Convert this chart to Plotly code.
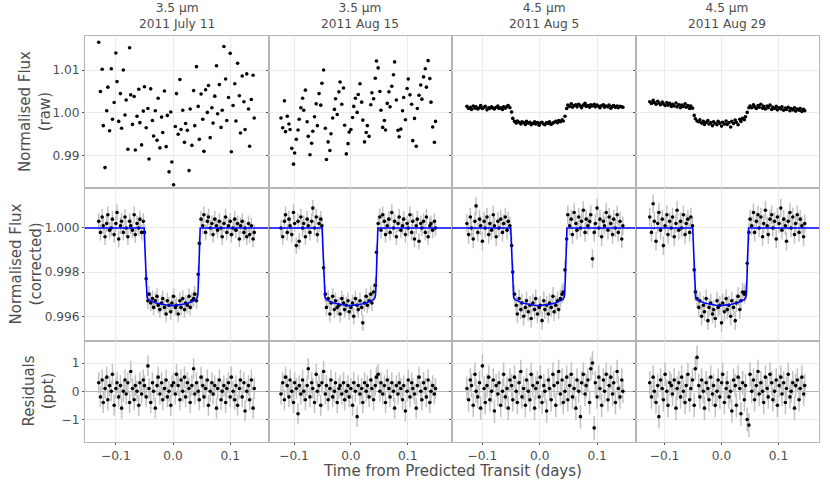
import plotly.graph_objects as go
from plotly.subplots import make_subplots

# panel labels
titles = ["3.5 µm<br>2011 July 11", "3.5 µm<br>2011 Aug 15",
          "4.5 µm<br>2011 Aug 5", "4.5 µm<br>2011 Aug 29"]

# time from predicted transit, in units of 0.001 days
t_jul11 = [-130, -127, -124, -122, -119, -116, -114, -111, -108, -106,
           -103, -100, -98, -95, -92, -90, -87, -84, -82, -79,
           -76, -74, -71, -68, -66, -63, -60, -58, -55, -52,
           -50, -47, -44, -42, -39, -36, -34, -31, -28, -26,
           -23, -20, -18, -15, -12, -10, -7, -4, -2, 1,
           4, 6, 9, 12, 14, 17, 20, 22, 25, 28,
           30, 33, 36, 38, 41, 44, 46, 49, 52, 54,
           57, 60, 62, 65, 68, 70, 73, 76, 78, 81,
           84, 86, 89, 92, 94, 97, 100, 102, 105, 108,
           110, 113, 116, 118, 121, 124, 126, 129, 132, 134,
           137, 140, 142]
t_aug15 = [-123, -120, -117, -115, -112, -109, -107, -104, -101, -99,
           -96, -93, -91, -88, -85, -83, -80, -77, -75, -72,
           -69, -67, -64, -61, -59, -56, -53, -51, -48, -45,
           -43, -40, -37, -35, -32, -29, -27, -24, -21, -19,
           -16, -13, -11, -8, -5, -3, 0, 3, 5, 8,
           11, 13, 16, 19, 21, 24, 27, 29, 32, 35,
           37, 40, 43, 45, 48, 51, 53, 56, 59, 61,
           64, 67, 69, 72, 75, 77, 80, 83, 85, 88,
           91, 93, 96, 99, 101, 104, 107, 109, 112, 115,
           117, 120, 123, 125, 128, 131, 133, 136, 139, 141,
           144, 147, 149]
t_aug05 = [-127, -124, -121, -119, -116, -113, -111, -108, -105, -103,
           -100, -97, -95, -92, -89, -87, -84, -81, -79, -76,
           -73, -71, -68, -65, -63, -60, -57, -55, -52, -49,
           -47, -44, -41, -39, -36, -33, -31, -28, -25, -23,
           -20, -17, -15, -12, -9, -7, -4, -1, 1, 4,
           7, 9, 12, 15, 17, 20, 23, 25, 28, 31,
           33, 36, 39, 41, 44, 47, 49, 52, 55, 57,
           60, 63, 65, 68, 71, 73, 76, 79, 81, 84,
           87, 89, 92, 95, 97, 100, 103, 105, 108, 111,
           113, 116, 119, 121, 124, 127, 129, 132, 135, 137,
           140, 143, 145]
t_aug29 = [-126, -123, -120, -118, -115, -112, -110, -107, -104, -102,
           -99, -96, -94, -91, -88, -86, -83, -80, -78, -75,
           -72, -70, -67, -64, -62, -59, -56, -54, -51, -48,
           -46, -43, -40, -38, -35, -32, -30, -27, -24, -22,
           -19, -16, -14, -11, -8, -6, -3, 0, 2, 5,
           8, 10, 13, 16, 18, 21, 24, 26, 29, 32,
           34, 37, 40, 42, 45, 48, 50, 53, 56, 58,
           61, 64, 66, 69, 72, 74, 77, 80, 82, 85,
           88, 90, 93, 96, 98, 101, 104, 106, 109, 112,
           114, 117, 120, 122, 125, 128, 130, 133, 136, 138,
           141, 144, 146]

# raw flux, parts per thousand away from 1
raw_jul11 = [16.5, 5.0, 10.2, -3.0, -12.8, 0.5, 6.0, -4.2, 10.3, -1.5,
             2.4, 14.0, 7.3, -2.0, 4.5, -3.6, 10.0, -0.5, 3.0, -8.5,
             15.2, 4.2, -2.7, 3.8, -8.7, -0.8, 5.5, -2.3, -7.5, 0.4,
             6.1, -3.5, 1.0, -10.8, 5.6, -1.8, -5.4, 0.5, -6.4, 3.4,
             -8.2, -1.0, -4.6, 5.1, -7.9, -0.6, -13.8, 0.2, -11.5, -16.8,
             -3.2, 4.5, -5.0, 7.8, -3.9, 0.6, -6.9, -2.5, -4.1, -13.5,
             0.9, -7.6, 5.2, -3.0, 10.8, 1.5, -6.2, 4.4, -1.5, -9.0,
             5.4, 0.1, 6.4, -5.8, 1.2, -2.4, 3.9, 11.0, -0.2, 6.6,
             -3.4, 0.6, 15.5, 7.9, -1.8, 3.6, 13.9, -9.1, 1.7, 6.8,
             -1.9, 11.6, 4.0, -4.7, 8.6, 2.6, -3.9, 9.1, 0.9, -7.8,
             3.1, 8.8, -1.2]
raw_aug15 = [-1.2, -3.5, 2.8, -4.4, -0.8, -2.6, -3.9, -8.3, -12.0, -9.4,
             -6.2, -4.0, -1.5, 1.2, 3.4, 0.6, 5.3, -2.1, -5.5, -9.8,
             -7.1, -4.3, -0.9, 2.1, -3.0, 4.5, 1.8, 6.9, 10.0, -3.6,
             -10.9, -6.8, -8.8, -4.9, -1.2, 0.8, 3.3, -0.4, 4.9, 7.2,
             2.0, 5.8, -2.9, -9.6, -7.2, -4.5, -3.9, -1.1, 1.5, 3.4,
             0.1, 4.3, 6.8, 2.5, -1.7, -6.8, -4.6, -3.0, -5.5, 1.9,
             4.7, 3.3, 8.1, 12.1, 10.5, 5.0, 0.6, -3.4, -1.8, -4.0,
             2.2, 4.9, 1.4, 6.2, 8.9, 11.9, 3.0, -4.1, -5.6, -3.8,
             0.5, 3.6, -1.6, 5.7, 7.9, 4.2, 2.0, -6.5, -1.3, -7.8,
             1.0, 4.1, 6.5, 3.2, 8.4, 10.3, 6.0, 12.2, 8.0, 2.5,
             -3.3, -6.9, -2.0]
raw_aug05 = [1.5, 1.0, 1.3, 0.8, 1.6, 1.1, 1.4, 0.9, 1.2, 1.7,
             1.0, 1.3, 1.5, 0.7, 1.2, 1.0, 1.4, 1.1, 0.9, 1.3,
             1.6, 1.0, 1.2, 0.8, 1.4, 1.1, 1.5, 1.7, 1.2, 0.2,
             -1.3, -2.0, -2.4, -1.9, -2.2, -2.6, -2.1, -2.3, -2.7, -2.0,
             -2.4, -2.2, -2.8, -2.5, -2.1, -2.6, -2.3, -2.9, -2.4, -2.2,
             -2.6, -2.8, -2.3, -2.5, -2.1, -2.7, -2.4, -2.2, -2.0, -2.3,
             -1.8, -2.1, -1.6, -1.9, -0.8, 1.0, 1.8, 1.5, 2.1, 1.3,
             1.7, 1.9, 1.4, 2.0, 1.6, 1.2, 1.8, 2.2, 1.5, 1.7,
             1.3, 1.9, 1.6, 2.0, 1.4, 1.8, 1.5, 1.2, 1.7, 1.9,
             1.3, 1.6, 1.4, 1.8, 1.1, 1.5, 1.7, 1.3, 1.6, 1.2,
             1.5, 1.4, 1.3]
raw_aug29 = [2.6, 2.2, 2.9, 2.4, 2.0, 2.7, 2.3, 1.9, 2.5, 2.1,
             1.7, 2.4, 1.8, 2.2, 1.5, 2.0, 1.6, 2.3, 1.4, 1.9,
             1.2, 1.8, 1.5, 2.1, 1.3, 1.7, 1.0, 1.6, 1.1, -0.6,
             -1.4, -1.9, -2.1, -1.6, -2.4, -2.0, -2.7, -2.2, -1.8, -2.6,
             -2.3, -3.0, -2.1, -2.5, -2.8, -2.0, -2.4, -3.1, -2.2, -2.6,
             -1.9, -2.7, -2.3, -3.3, -2.0, -2.5, -1.7, -2.2, -2.8, -1.5,
             -2.0, -1.3, -1.6, -0.9, 0.1, 1.2, 1.6, 1.2, 1.9, 1.4,
             1.0, 1.7, 1.3, 2.0, 1.1, 1.5, 0.9, 1.6, 1.2, 1.8,
             0.8, 1.3, 1.0, 1.5, 0.7, 1.2, 0.9, 1.4, 0.6, 1.1,
             0.8, 1.3, 0.5, 1.0, 0.7, 1.2, 0.4, 0.9, 0.6, 1.0,
             0.3, 0.8, 0.5]

# systematics-corrected flux, parts per thousand away from 1
corr_jul11 = [0.3, -0.2, 0.5, 0.1, -0.4, 0.2, 0.6, -0.1, 0.0, 0.4,
              -0.3, 0.2, 0.7, -0.5, 0.1, 0.3, -0.2, 0.5, 0.0, -0.4,
              0.3, 0.1, -0.1, 0.6, -0.3, 0.2, 0.0, 0.4, -0.2, 0.3,
              -0.2, -2.3, -3.3, -3.0, -3.4, -3.2, -3.6, -3.3, -3.1, -3.5,
              -3.7, -3.4, -3.2, -3.6, -3.9, -3.3, -3.5, -3.8, -3.4, -3.1,
              -3.6, -3.5, -3.9, -3.3, -3.6, -3.2, -3.7, -3.4, -3.5, -3.1,
              -3.6, -3.3, -3.2, -3.0, -3.3, -2.1, -0.7, 0.4, 0.1, 0.6,
              -0.2, 0.3, 0.5, 0.0, 0.2, -0.3, 0.4, 0.1, -0.1, 0.3,
              0.0, -0.4, 0.2, 0.5, -0.2, 0.1, 0.3, -0.3, 0.0, 0.4,
              -0.1, 0.2, -0.5, 0.1, 0.3, -0.2, 0.0, -0.4, 0.2, -0.3,
              0.1, -0.5, -0.2]
corr_aug15 = [0.0, -0.4, 0.3, 0.6, -0.2, 0.4, 0.1, -0.3, 0.7, 0.2,
              -0.8, 0.3, -0.6, 0.5, 0.0, 0.2, -0.4, 0.4, 0.1, -0.2,
              0.3, 0.9, 0.0, 0.5, -0.3, 0.2, 0.4, 0.1, -1.8, -3.0,
              -3.6, -3.2, -3.9, -3.4, -3.1, -3.7, -3.3, -3.6, -3.5, -3.9,
              -3.2, -3.4, -3.7, -3.5, -3.3, -3.8, -3.6, -3.4, -4.0, -3.2,
              -3.5, -3.7, -3.3, -3.6, -4.3, -3.4, -3.1, -3.5, -3.3, -3.0,
              -3.4, -2.9, -2.6, -1.1, 0.2, 0.5, -0.1, 0.6, 0.3, -0.3,
              0.1, 0.4, -0.2, 0.7, 0.0, 0.3, -0.4, 0.2, 0.5, -0.1,
              0.1, 0.4, -0.3, 0.2, 0.0, 0.6, -0.2, 0.3, -0.5, 0.1,
              0.4, -0.6, 0.2, 0.0, 0.3, -0.2, 0.5, -0.4, 0.1, 0.2,
              -0.1, 0.3, 0.0]
corr_aug05 = [0.2, -0.3, 0.5, 0.0, -0.5, 0.3, 1.0, -0.2, 0.4, 0.1,
              -0.6, 0.3, 0.0, 0.5, -0.3, 0.2, -0.1, 0.6, 0.1, -0.4,
              0.3, 0.0, 0.4, -0.2, 0.2, 0.5, -0.1, 0.3, 0.1, -0.8,
              -2.0, -3.0, -3.5, -3.9, -3.2, -3.7, -3.4, -4.0, -3.6, -3.3,
              -3.8, -3.5, -4.1, -3.4, -3.7, -3.2, -3.9, -3.6, -3.5, -4.2,
              -3.3, -3.7, -3.5, -3.9, -3.4, -3.6, -3.1, -3.8, -3.5, -3.3,
              -3.7, -3.2, -3.0, -2.9, -1.9, -0.5, 0.6, 0.1, 0.4, -0.3,
              0.7, 0.2, -0.1, 0.5, 0.0, 0.3, 0.8, -0.2, 0.4, 0.1,
              0.3, 0.6, -1.4, -0.2, 0.2, 0.9, 0.0, 0.4, -0.4, 0.3,
              0.1, 0.7, -0.1, 0.5, 0.2, -0.3, 0.4, 0.0, 0.6, -0.2,
              0.3, -0.5, 0.1]
corr_aug29 = [0.5, -0.2, 1.1, 0.3, -0.6, 0.2, 0.7, -0.1, 0.4, -0.8,
              0.1, 0.6, -0.3, 0.3, 0.0, 0.5, -0.4, 0.2, 0.8, -0.1,
              0.3, 0.0, 0.6, -0.3, 0.2, 0.4, -0.2, 0.5, 0.1, -1.9,
              -2.9, -3.2, -3.6, -3.3, -4.0, -3.5, -3.8, -3.2, -4.2, -3.6,
              -3.4, -3.9, -3.7, -4.1, -3.3, -3.6, -3.5, -4.3, -3.4, -3.8,
              -3.2, -3.7, -3.5, -4.0, -3.3, -3.6, -4.2, -3.4, -3.1, -3.7,
              -3.3, -2.9, -3.0, -2.9, -1.6, -0.2, 0.4, 0.1, 0.7, -0.2,
              0.3, 0.6, 0.0, 0.5, -0.4, 0.2, 0.8, 0.1, -0.3, 0.4,
              0.6, 0.0, 0.3, -0.5, 0.5, 0.2, 0.9, -0.1, 0.4, 0.1,
              -0.6, 0.3, 0.7, 0.0, 0.5, -0.3, 0.2, 0.6, -0.2, 0.4,
              0.1, -0.4, 0.2]

# residuals, ppt
res_jul11 = [0.3, -0.2, 0.4, -0.4, 0.1, 0.5, -0.3, 0.2, 0.0, 0.6,
             -0.5, 0.1, 0.3, -0.2, 0.2, -0.6, 0.0, 0.4, -0.1, 0.3,
             -0.4, 0.7, 0.1, -0.3, 0.2, 0.0, -0.5, 0.3, -0.1, 0.4,
             0.2, -0.2, 0.9, 0.1, -0.4, 0.3, 0.0, -0.6, 0.2, 0.5,
             -0.1, 0.3, -0.3, 0.1, 0.4, -0.2, 0.0, -0.5, 0.2, 0.3,
             -0.1, 0.6, 0.2, -0.3, 0.4, 0.0, 0.5, -0.2, 0.3, 0.1,
             -0.4, 0.2, 0.8, -0.1, 0.3, 0.0, -0.3, 0.5, 0.2, -0.2,
             0.1, 0.4, -0.5, 0.0, 0.3, -0.1, 0.2, -0.6, 0.1, 0.4,
             -0.3, 0.0, 0.2, -0.4, 0.1, 0.3, -0.2, 0.5, 0.0, -0.3,
             0.2, -0.5, 0.1, 0.4, -0.2, 0.3, -0.7, 0.0, 0.2, -0.3,
             0.4, -0.6, 0.1]
res_aug15 = [-0.1, 0.3, -0.3, 0.5, 0.2, -0.2, 0.4, 0.0, -0.4, 0.3,
             0.1, -0.8, 0.2, -0.1, 0.4, 0.0, -0.3, 0.2, 0.8, -0.2,
             0.3, 0.1, -0.4, 0.6, 0.0, 0.2, -0.5, 0.3, 0.7, -0.1,
             0.2, -0.3, 0.1, 0.4, -0.2, 0.0, 0.3, -0.4, 0.1, 0.2,
             -0.1, 0.3, -0.3, 0.0, 0.2, -0.2, 0.1, -0.5, 0.3, 0.0,
             -0.9, 0.2, -0.1, 0.1, -0.4, 0.3, 0.0, 0.2, -0.2, 0.4,
             0.1, -0.3, 0.2, 0.5, 0.6, 0.0, 0.3, -0.1, 0.2, -0.4,
             0.4, 0.1, -0.2, 0.3, 0.0, -0.6, 0.2, -0.1, 0.3, 0.1,
             -0.3, 0.2, -0.7, 0.0, 0.4, -0.2, 0.3, 0.1, -0.1, -0.6,
             0.2, 0.5, 0.0, -0.3, 0.3, 0.1, -0.2, 0.4, -0.4, 0.0,
             0.2, -0.1, 0.1]
res_aug05 = [0.1, -0.3, 0.4, 0.2, -0.5, 0.6, 0.0, -0.2, 0.3, -0.6,
             0.9, 0.1, -0.4, 0.2, 0.5, -0.3, 0.0, 0.4, -0.7, 0.2,
             -0.1, 0.3, -0.5, 0.0, 0.6, -0.2, 0.1, -0.6, 0.4, 0.2,
             -0.3, 0.5, 0.0, -0.4, 0.3, 0.7, -0.2, 0.1, -0.5, 0.4,
             0.0, -0.3, 0.6, 0.2, -0.6, 0.1, 0.3, -0.2, 0.5, -0.4,
             0.2, 0.0, -0.7, 0.4, 0.1, -0.3, 0.6, 0.2, -0.5, 0.3,
             0.7, -0.1, 0.4, -0.4, 0.0, 0.5, -0.3, 0.2, 0.6, -0.2,
             0.1, -0.6, 0.4, 0.0, -0.9, 0.3, 0.6, -0.1, 0.2, 0.4,
             -0.4, 0.8, 1.0, -1.3, 0.3, -0.2, 0.5, 0.1, -0.5, 0.4,
             0.0, 0.6, -0.3, 0.2, 0.5, -0.1, 0.3, -0.4, 0.7, 0.1,
             -0.2, 0.4, 0.0]
res_aug29 = [0.3, -0.2, 0.5, 0.0, -0.4, 0.2, -0.9, 0.4, 0.1, -0.3,
             0.6, 0.0, -0.5, 0.3, 0.2, -0.1, 0.4, -0.6, 0.1, 0.3,
             -0.2, 0.5, 0.0, -0.4, 0.2, 0.6, -0.3, 0.1, 0.4, -0.5,
             0.8, 1.2, 0.2, -0.2, 0.4, 0.0, -0.6, 0.3, 0.1, -0.3,
             0.5, -0.1, 0.2, -0.5, 0.0, 0.4, -0.2, 0.3, 0.6, -0.4,
             0.1, 0.3, -0.2, 0.0, -0.7, 0.4, 0.2, -0.5, 0.5, 0.1,
             -0.8, 0.3, -0.3, 0.2, -1.0, -1.2, 0.6, 0.0, 0.4, -0.3,
             0.2, 0.7, -0.1, 0.3, 0.0, -0.4, 0.5, 0.1, -0.2, 0.6,
             0.3, -0.3, 0.0, 0.4, -0.5, 0.2, 0.5, -0.1, 0.3, -0.4,
             0.1, 0.6, -0.2, 0.0, 0.3, -0.6, 0.2, 0.4, -0.3, 0.1,
             0.5, -0.1, 0.2]

# per-point uncertainty (ppt)
err_ppt = [0.37, 0.37, 0.42, 0.42]

# fitted transit model (time in 0.001 d, flux in ppt)
model_t = [-160, -50.5, -49.5, -48.5, -47.5, -46.5, -45.5, -43, -40, -35,
           -30, -20, -10, -1.5, 7, 17, 27, 32, 37, 40,
           42.5, 43.5, 44.5, 45.5, 46.5, 47.5, 180]
model_f = [0, 0, -0.7, -1.6, -2.4, -3.0, -3.15, -3.25, -3.3, -3.35,
           -3.4, -3.46, -3.5, -3.52, -3.5, -3.46, -3.4, -3.35, -3.3, -3.25,
           -3.15, -3.0, -2.4, -1.6, -0.7, 0, 0]

times = [t_jul11, t_aug15, t_aug05, t_aug29]
raws = [raw_jul11, raw_aug15, raw_aug05, raw_aug29]
corrs = [corr_jul11, corr_aug15, corr_aug05, corr_aug29]
resids = [res_jul11, res_aug15, res_aug05, res_aug29]

x_ranges = [[-0.154, 0.167], [-0.145, 0.178], [-0.153, 0.167], [-0.151, 0.171]]

fig = make_subplots(rows=3, cols=4, shared_xaxes=True, shared_yaxes=True,
                    horizontal_spacing=0, vertical_spacing=0,
                    row_heights=[1.5, 1.5, 1])

dot = dict(color='black', size=3.6)
bar_col = '#c2c2c2'

for c in range(4):
    x = [v / 1000 for v in times[c]]
    fig.add_trace(go.Scatter(x=x, y=[1 + v / 1000 for v in raws[c]],
                             mode='markers', marker=dot), row=1, col=c + 1)
    fig.add_trace(go.Scatter(x=x, y=[1 + v / 1000 for v in corrs[c]],
                             mode='markers', marker=dot,
                             error_y=dict(type='constant', value=err_ppt[c] / 1000,
                                          color=bar_col, thickness=1.5, width=0)),
                  row=2, col=c + 1)
    fig.add_trace(go.Scatter(x=[v / 1000 for v in model_t],
                             y=[1 + v / 1000 for v in model_f],
                             mode='lines', line=dict(color='#0000ff', width=1.6)),
                  row=2, col=c + 1)
    fig.add_trace(go.Scatter(x=x, y=resids[c], mode='markers', marker=dot,
                             error_y=dict(type='constant', value=err_ppt[c],
                                          color=bar_col, thickness=1.5, width=0)),
                  row=3, col=c + 1)
    fig.update_xaxes(range=x_ranges[c], col=c + 1)

grey = '#4d4d4d'
axis_style = dict(showline=True, mirror=True, linecolor='#b5b5b5', linewidth=1,
                  showgrid=True, gridcolor='#ebebeb', gridwidth=1, zeroline=False,
                  ticklen=2, tickcolor='#555555',
                  tickfont=dict(size=12.2, color=grey))
fig.update_xaxes(**axis_style, tickvals=[-0.1, 0, 0.1], tickformat='.1f', ticks='')
fig.update_xaxes(ticks='outside', row=3)
fig.update_yaxes(**axis_style, ticks='outside')
fig.update_yaxes(range=[0.98237, 1.01796], tickvals=[0.99, 1.00, 1.01],
                 tickformat='.2f', row=1)
fig.update_yaxes(range=[0.9949, 1.0018], tickvals=[0.996, 0.998, 1.000],
                 tickformat='.3f', row=2)
fig.update_yaxes(range=[-1.8, 1.8], tickvals=[-1, 0, 1], tickformat='d',
                 zeroline=True, zerolinecolor='#b5b5b5', zerolinewidth=1, row=3)

notes = []
for c in range(4):
    notes.append(dict(text=titles[c], x=(c + 0.5) / 4, y=1, xref='paper', yref='paper',
                      xanchor='center', yanchor='bottom', yshift=3, showarrow=False,
                      font=dict(size=12.2, color=grey)))
ytitles = [("Normalised Flux<br>(raw)", -0.068, 0.813),
           ("Normalised Flux<br>(corrected)", -0.080, 0.438),
           ("Residuals<br>(ppt)", -0.063, 0.126)]
for txt, xx, yy in ytitles:
    notes.append(dict(text=txt, x=xx, y=yy, xref='paper', yref='paper', textangle=-90,
                      xanchor='center', yanchor='middle', showarrow=False,
                      font=dict(size=15, color=grey)))
notes.append(dict(text="Time from Predicted Transit (days)", x=0.5, y=-0.072,
                  xref='paper', yref='paper', xanchor='center', yanchor='middle',
                  showarrow=False, font=dict(size=15, color=grey)))

fig.update_layout(width=830, height=486, showlegend=False,
                  margin=dict(l=85, r=11, t=36, b=44),
                  plot_bgcolor='white', paper_bgcolor='white',
                  font=dict(family='DejaVu Sans', color=grey),
                  annotations=notes)

# drop the browser's default body margin so the figure sits at the page corner
fig.write_html("out.html", config={'displayModeBar': False},
               post_script="document.body.style.margin = '0';")
